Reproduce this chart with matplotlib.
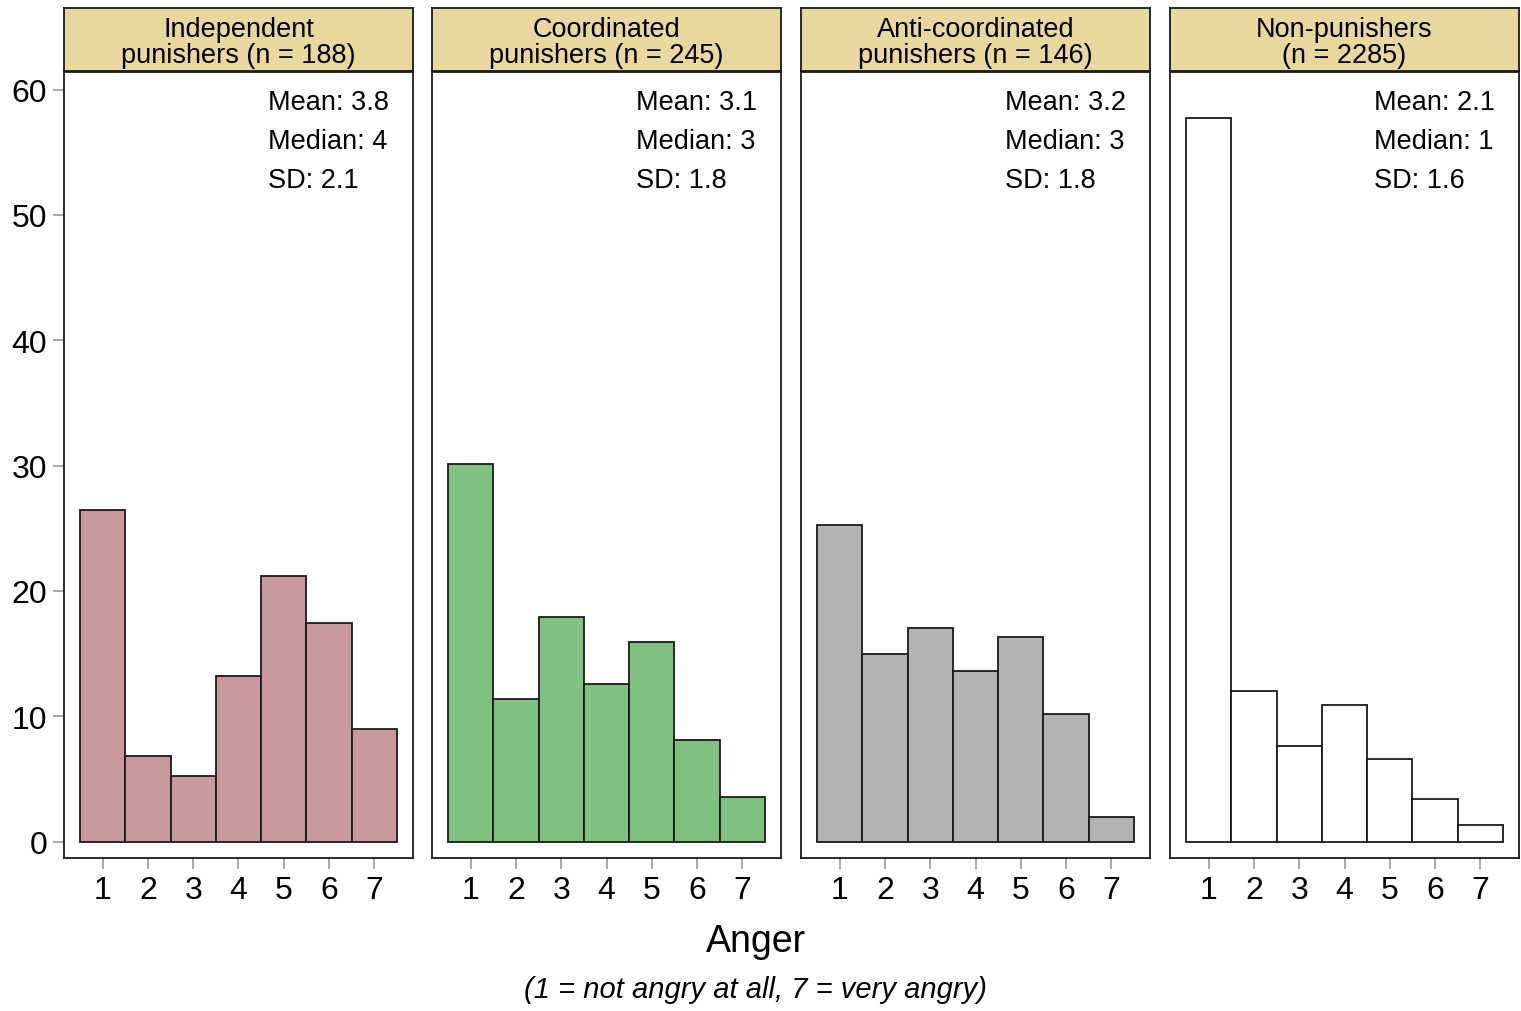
import numpy as np
import matplotlib
matplotlib.use("Agg")
import matplotlib.pyplot as plt

plt.rcParams["font.family"] = ["Liberation Sans", "DejaVu Sans"]

anger = [1, 2, 3, 4, 5, 6, 7]
titles = ["Independent\npunishers (n = 188)", "Coordinated\npunishers (n = 245)",
          "Anti-coordinated\npunishers (n = 146)", "Non-punishers\n(n = 2285)"]
pct_indep = [26.5, 6.85, 5.25, 13.2, 21.2, 17.45, 9.0]
pct_coord = [30.1, 11.4, 17.9, 12.6, 15.9, 8.1, 3.6]
pct_anti = [25.3, 15.0, 17.05, 13.6, 16.3, 10.2, 2.0]
pct_non = [57.7, 12.0, 7.65, 10.9, 6.6, 3.4, 1.35]
means = ["3.8", "3.1", "3.2", "2.1"]
medians = ["4", "3", "3", "1"]
sds = ["2.1", "1.8", "1.8", "1.6"]
yticks = [0, 10, 20, 30, 40, 50, 60]

series = [pct_indep, pct_coord, pct_anti, pct_non]
colors = ["#c8999c", "#80c080", "#b3b3b3", "#ffffff"]

W, H = 1521, 1012
fig = plt.figure(figsize=(W / 100, H / 100), dpi=100)
lefts = [64, 432, 801, 1170]
pw = 349

for k in range(4):
    ax = fig.add_axes([lefts[k] / W, (H - 859) / H, pw / W, 786 / H])
    ax.bar(anger, series[k], width=1.0, color=colors[k], edgecolor="#1a1a1a", linewidth=1.3)
    ax.set_xlim(0.14, 7.86)
    ax.set_ylim(-1.3, 61.4)
    ax.set_xticks(anger)
    ax.set_xticklabels([str(a) for a in anger], fontsize=23)
    ax.tick_params(axis="x", direction="out", length=8, width=1.2, color="#999999", pad=4.5)
    for s in ax.spines.values():
        s.set_color("#1a1a1a")
        s.set_linewidth(1.3)
    if k == 0:
        ax.set_yticks(yticks)
        ax.set_yticklabels([str(v) for v in yticks], fontsize=23)
        ax.tick_params(axis="y", direction="out", length=8, width=1.2, color="#999999", pad=4)
    else:
        ax.set_yticks([])
    tx = 0.585
    ax.text(tx, 0.962, f"Mean: {means[k]}", transform=ax.transAxes, fontsize=19.5, va="center", ha="left")
    ax.text(tx, 0.912, f"Median: {medians[k]}", transform=ax.transAxes, fontsize=19.5, va="center", ha="left")
    ax.text(tx, 0.862, f"SD: {sds[k]}", transform=ax.transAxes, fontsize=19.5, va="center", ha="left")

    sx = fig.add_axes([lefts[k] / W, (H - 72) / H, pw / W, 63 / H])
    sx.set_facecolor("#e8d8a0")
    sx.set_xticks([])
    sx.set_yticks([])
    for s in sx.spines.values():
        s.set_color("#1a1a1a")
        s.set_linewidth(1.3)
    sx.text(0.5, 0.46, titles[k], transform=sx.transAxes, ha="center", va="center",
            fontsize=19.5, linespacing=1.02)

fig.text(756 / W, 1 - 942 / H, "Anger", ha="center", va="center", fontsize=27)
fig.text(756 / W, 1 - 990 / H, "(1 = not angry at all, 7 = very angry)", ha="center", va="center",
         fontsize=21, style="italic")

fig.savefig("out.png", dpi=100, facecolor="white")
